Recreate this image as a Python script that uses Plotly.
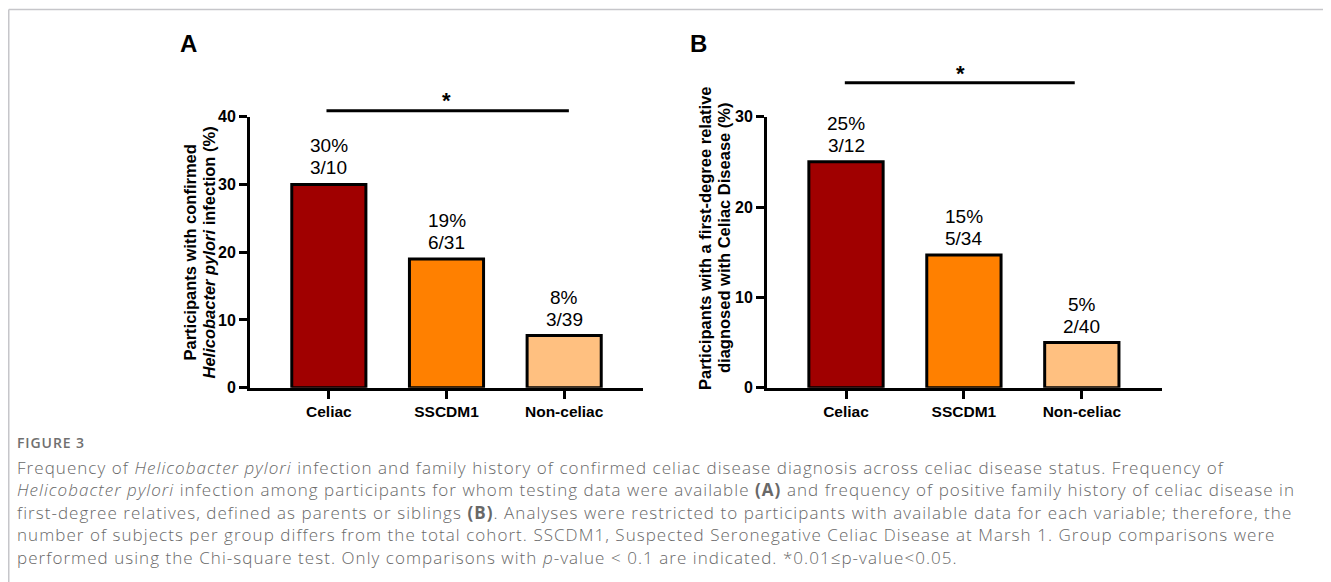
import plotly.graph_objects as go

# ---------------- data ----------------
categories = ["Celiac", "SSCDM1", "Non-celiac"]
bar_colors = ["#a00000", "#ff8000", "#ffc080"]

hp_values = [30, 19, 7.7]
hp_pct = ["30%", "19%", "8%"]
hp_counts = ["3/10", "6/31", "3/39"]

fam_values = [25, 14.7, 5]
fam_pct = ["25%", "15%", "5%"]
fam_counts = ["3/12", "5/34", "2/40"]

hp_ticks = [0, 10, 20, 30, 40]
fam_ticks = [0, 10, 20, 30]

hp_title = ["Participants with confirmed", "<i>Helicobacter pylori</i> infection (%)"]
fam_title = ["Participants with a first-degree relative", "diagnosed with Celiac Disease (%)"]

caption_head = "FIGURE 3"
caption_lines = [
    "Frequency of <i>Helicobacter pylori</i> infection and family history of confirmed celiac disease diagnosis across celiac disease status. Frequency of",
    "<i>Helicobacter pylori</i> infection among participants for whom testing data were available <b>(A)</b> and frequency of positive family history of celiac disease in",
    "first-degree relatives, defined as parents or siblings <b>(B)</b>. Analyses were restricted to participants with available data for each variable; therefore, the",
    "number of subjects per group differs from the total cohort. SSCDM1, Suspected Seronegative Celiac Disease at Marsh 1. Group comparisons were",
    "performed using the Chi-square test. Only comparisons with <i>p</i>-value &lt; 0.1 are indicated. *0.01≤p-value&lt;0.05.",
]

W, H = 1331, 582
OX, OY = 8, 8  # page (body) margin compensation
FONT = "Liberation Sans, Arial, sans-serif"
CAPFONT = "Open Sans, Lato, sans-serif"


def px(x):
    return (x - OX) / W


def py(y):
    return 1 - (y - OY) / H


fig = go.Figure()

fig.add_trace(go.Bar(
    x=categories, y=hp_values, marker=dict(color=bar_colors, line=dict(color="black", width=3)),
    width=0.63, xaxis="x", yaxis="y", showlegend=False, hoverinfo="skip"))
fig.add_trace(go.Bar(
    x=categories, y=fam_values, marker=dict(color=bar_colors, line=dict(color="black", width=3)),
    width=0.63, xaxis="x2", yaxis="y2", showlegend=False, hoverinfo="skip"))

ydom = [py(387.7), py(116.7)]
axis_common = dict(showline=True, linecolor="black", linewidth=3, ticks="outside", ticklen=8,
                   tickwidth=3, tickcolor="black", showgrid=False, zeroline=False)
xfont = dict(family=FONT, size=15.5, color="black", weight="bold")
yfont = dict(family=FONT, size=16, color="black", weight="bold")

fig.update_layout(
    width=W, height=H, autosize=False, margin=dict(l=0, r=0, t=0, b=0, autoexpand=False),
    paper_bgcolor="white", plot_bgcolor="white",
    xaxis=dict(domain=[px(250), px(643)], range=[-0.67, 2.67], anchor="y", tickfont=xfont, **axis_common),
    yaxis=dict(domain=ydom, range=[0, 40], tickvals=hp_ticks, anchor="x", tickfont=yfont, **axis_common),
    xaxis2=dict(domain=[px(767), px(1162)], range=[-0.67, 2.68], anchor="y2", tickfont=xfont, **axis_common),
    yaxis2=dict(domain=ydom, range=[0, 30], tickvals=fam_ticks, anchor="x2", tickfont=yfont, **axis_common),
)

annotations = []
for xr, yr, vals, pcts, cnts in [("x", "y", hp_values, hp_pct, hp_counts),
                                  ("x2", "y2", fam_values, fam_pct, fam_counts)]:
    for c, v, p, n in zip(categories, vals, pcts, cnts):
        annotations.append(dict(x=c, y=v, xref=xr, yref=yr, text=n, showarrow=False,
                                yanchor="bottom", yshift=4,
                                font=dict(family=FONT, size=19, color="black")))
        annotations.append(dict(x=c, y=v, xref=xr, yref=yr, text=p, showarrow=False,
                                yanchor="bottom", yshift=26,
                                font=dict(family=FONT, size=19, color="black")))

# y-axis titles (two rotated lines each)
for txt, x, y in [(hp_title[0], 189, 252.5), (hp_title[1], 208, 252.5),
                  (fam_title[0], 705, 238), (fam_title[1], 724, 238)]:
    annotations.append(dict(x=px(x), y=py(y), xref="paper", yref="paper", textangle=-90,
                            text=txt, showarrow=False, xanchor="center", yanchor="middle",
                            font=dict(family=FONT, size=16.5, color="black", weight="bold")))

# panel letters
for letter, x in [("A", 188), ("B", 698)]:
    annotations.append(dict(x=px(x), y=py(43), xref="paper", yref="paper", text=letter,
                            showarrow=False, xanchor="center", yanchor="middle",
                            font=dict(family=FONT, size=24, color="black", weight="bold")))

# significance stars
annotations.append(dict(x=1.0, y=py(100), xref="x", yref="paper", text="*", showarrow=False,
                        xanchor="center", yanchor="middle",
                        font=dict(family=FONT, size=22, color="black", weight="bold")))
annotations.append(dict(x=0.97, y=py(73), xref="x2", yref="paper", text="*", showarrow=False,
                        xanchor="center", yanchor="middle",
                        font=dict(family=FONT, size=22, color="black", weight="bold")))

# caption
annotations.append(dict(x=px(15), y=py(442), xref="paper", yref="paper",
                        text=f"<span style='letter-spacing:0.9px'>{caption_head}</span>",
                        showarrow=False, xanchor="left", yanchor="middle",
                        font=dict(family=CAPFONT, size=14, color="#707070", weight=600)))
for i, line in enumerate(caption_lines):
    annotations.append(dict(x=px(15), y=py(467 + 22.5 * i), xref="paper", yref="paper",
                            text=f"<span style='letter-spacing:1.05px'>{line}</span>",
                            showarrow=False, xanchor="left", yanchor="middle",
                            font=dict(family=CAPFONT, size=17, color="#686868", weight=300)))

shapes = [
    dict(type="line", xref="x", yref="paper", x0=-0.02, x1=2.04, y0=py(110.7), y1=py(110.7),
         line=dict(color="black", width=3)),
    dict(type="line", xref="x2", yref="paper", x0=-0.01, x1=1.94, y0=py(82.7), y1=py(82.7),
         line=dict(color="black", width=3)),
    dict(type="line", xref="paper", yref="paper", x0=px(8.75), x1=1, y0=py(9.5), y1=py(9.5),
         line=dict(color="#c6c6ca", width=1.5)),
    dict(type="line", xref="paper", yref="paper", x0=px(8.75), x1=px(8.75), y0=0, y1=py(9.5),
         line=dict(color="#c6c6ca", width=1.5)),
]

fig.update_layout(annotations=annotations, shapes=shapes)
fig.write_html("out.html", config={"responsive": False})
